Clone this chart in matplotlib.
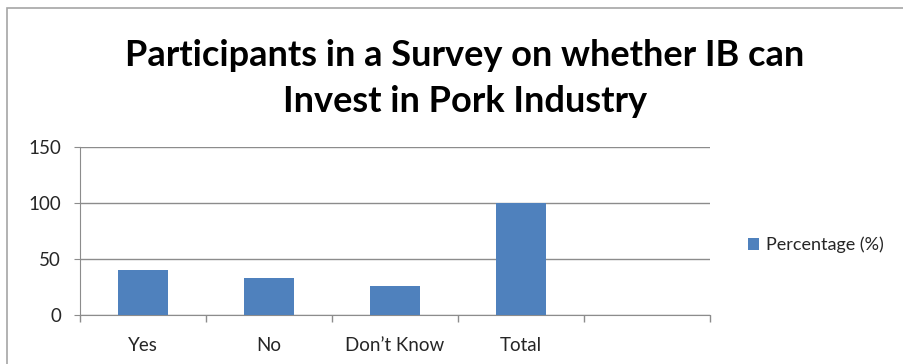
import matplotlib.pyplot as plt
from matplotlib.patches import Rectangle

categories = ["Yes", "No", "Don\u2019t Know", "Total", ""]
percentage = [40, 33, 26, 100, None]
y_ticks = [0, 50, 100, 150]

bar_color = "#4F81BD"
grid_color = "#8C8C8C"
text_color = "#262626"

plt.rcParams['font.family'] = ['Lato', 'DejaVu Sans']

W, H = 904, 364
fig = plt.figure(figsize=(W / 100, H / 100), dpi=100)

# chart area frame (only top/left visible, rest runs off the canvas)
fig.patches.append(Rectangle((7 / W, -0.1), 1.2, 1 - 8 / H + 0.1,
                             transform=fig.transFigure, fill=False,
                             edgecolor="#A6A6A6", linewidth=1.2))

ax = fig.add_axes([80 / W, 1 - 315 / H, 630 / W, 168 / H])

x = list(range(len(categories)))
vals = [v if v is not None else 0 for v in percentage]
ax.bar(x, vals, width=0.4, color=bar_color, label="Percentage (%)", zorder=3)

ax.set_xlim(-0.5, len(categories) - 0.5)
ax.set_ylim(0, 150)
ax.set_yticks(y_ticks)
ax.set_yticklabels([str(t) for t in y_ticks], fontsize=13.5, color=text_color)
ax.set_xticks(x)
ax.set_xticklabels(categories, fontsize=13.5, color=text_color)
ax.tick_params(axis='x', length=0, pad=16)
ax.tick_params(axis='y', length=4.5, color=grid_color, pad=9)

# boundary ticks between categories
ax.set_xticks([i - 0.5 for i in range(len(categories) + 1)], minor=True)
ax.tick_params(axis='x', which='minor', length=5, color=grid_color, width=1)

ax.grid(axis='y', color=grid_color, linewidth=1, zorder=0)
for side in ['top', 'right']:
    ax.spines[side].set_visible(False)
ax.spines['left'].set_color(grid_color)
ax.spines['bottom'].set_color(grid_color)

fig.text(465 / W, 1 - 55 / H, "Participants in a Survey on whether IB can",
         ha='center', va='center', fontsize=26, fontweight='bold', color='black')
fig.text(465 / W, 1 - 102 / H, "Invest in Pork Industry",
         ha='center', va='center', fontsize=26, fontweight='bold', color='black')

ax.legend(loc='center left', bbox_to_anchor=(732 / W, 1 - 245 / H),
          bbox_transform=fig.transFigure, frameon=False, fontsize=13,
          handlelength=0.6, handleheight=0.6, handletextpad=0.4,
          labelcolor=text_color)

fig.savefig("out.png", dpi=100)
